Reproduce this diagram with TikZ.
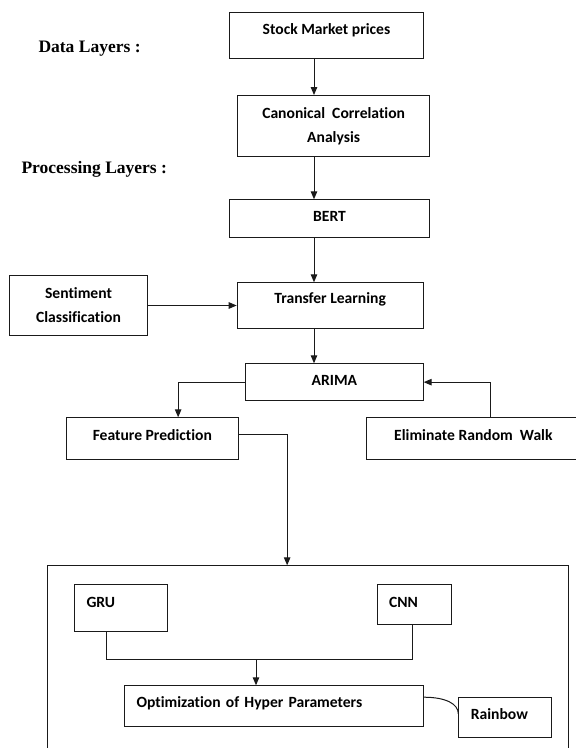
\documentclass[tikz,border=0pt]{standalone}
\usepackage{fontspec}
\setmainfont{Carlito}[Ligatures=NoCommon]
\newfontfamily\layerFont{Liberation Serif}
\usetikzlibrary{arrows.meta}

\begin{document}
\begin{tikzpicture}[x=1pt, y=-1pt, >={Triangle[length=8pt,width=6.5pt]}]
    % Define line width of boxes and connectors
    \def\lineWidth{1pt}

    \definecolor{borderColour}{HTML}{1A1A1A}

    \tikzset{
        box/.style={draw=borderColour, line width=\lineWidth, anchor=north west, inner sep=0pt,
            font=\bfseries\fontsize{15.6}{24}\selectfont, align=center},
        capline/.style={text height=10pt, text depth=#1},
        capline/.default=0pt,
        leftbox/.style={box, align=left, text width=#1, inner xsep=12pt},
        link/.style={borderColour, line width=\lineWidth},
        layer/.style={anchor=base west, font=\layerFont\bfseries\fontsize{17.5}{20}\selectfont}
    }

    % Fix the page size
    \useasboundingbox (0,0) rectangle (576,748);
    \clip (0,0) rectangle (576,748);

    % Layer labels
    \node[layer] (dataLayers) at (35,52.7) {Data Layers :};
    \node[layer] (procLayers) at (18,173) {Processing Layers :};

    % Draw the main column
    \node[box, capline=12.6pt, minimum width=193.4pt, minimum height=46pt] (stock) at (229.3,12.3) {Stock Market prices};
    \node[box, minimum width=191.7pt, minimum height=60.7pt] (cca) at (237.3,95) {Canonical~ Correlation\\Analysis};
    \node[box, capline=4pt, minimum width=199.4pt, minimum height=37.4pt] (bert) at (229.3,199.3) {BERT};
    \node[box, capline=13.4pt, minimum width=186pt, minimum height=45.4pt] (transfer) at (236.7,282.3) {Transfer Learning};
    \node[box, minimum width=137.4pt, minimum height=59.4pt] (senti) at (9.3,275.3) {Sentiment\\Classification};
    \node[box, capline=3.4pt, minimum width=177.7pt, minimum height=36.7pt] (arima) at (245,363.3) {ARIMA};
    \node[box, capline=6.6pt, minimum width=171.7pt, minimum height=42pt] (feature) at (66,417.3) {Feature Prediction};
    \node[box, capline=6.6pt, minimum width=214.3pt, minimum height=42pt] (elim) at (365.7,417.3) {Eliminate Random~ Walk};

    % Draw the model block
    \node[box, minimum width=520.7pt, minimum height=230pt] (container) at (47.3,565.3) {};
    \node[leftbox=68.7pt, capline=11.6pt, minimum height=47pt] (gru) at (74,584) {GRU};
    \node[leftbox=50pt, capline=5pt, minimum height=40.3pt] (cnn) at (376.7,584) {CNN};
    \node[leftbox=274.7pt, capline=7.6pt, minimum height=40.4pt] (opt) at (124,685.3) {Optimization of Hyper Parameters};
    \node[leftbox=69pt, capline=5.4pt, minimum height=40.6pt] (rainbow) at (458.3,696.7) {Rainbow};

    % Connectors
    \coordinate (spine) at (314,0);
    \draw[link,->] (stock.south -| spine) -- (cca.north -| spine);
    \draw[link,->] (cca.south -| spine) -- (bert.north -| spine);
    \draw[link,->] (bert.south -| spine) -- (transfer.north -| spine);
    \draw[link,->] (transfer.south -| spine) -- (arima.north -| spine);
    \draw[link,->] (senti.east) -- (senti.east -| transfer.west);
    \draw[link,->] (arima.west) -| ([xshift=25.8pt]feature.north);
    \draw[link,->] ([xshift=17.5pt]elim.north) |- (arima.east);
    \draw[link,->] ([yshift=4pt]feature.east) -| ([xshift=-21pt]container.north);

    \coordinate (merge) at (256,659.7);
    \draw[link] ([xshift=-14.6pt]gru.south) |- (merge) -| ([xshift=-2pt]cnn.south);
    \draw[link,->] (merge) -- (merge |- opt.north);
    \draw[link] ([yshift=8.8pt]opt.east) .. controls +(22,0) and +(0,-10) .. ([yshift=3.7pt]rainbow.west);

\end{tikzpicture}
\end{document}
